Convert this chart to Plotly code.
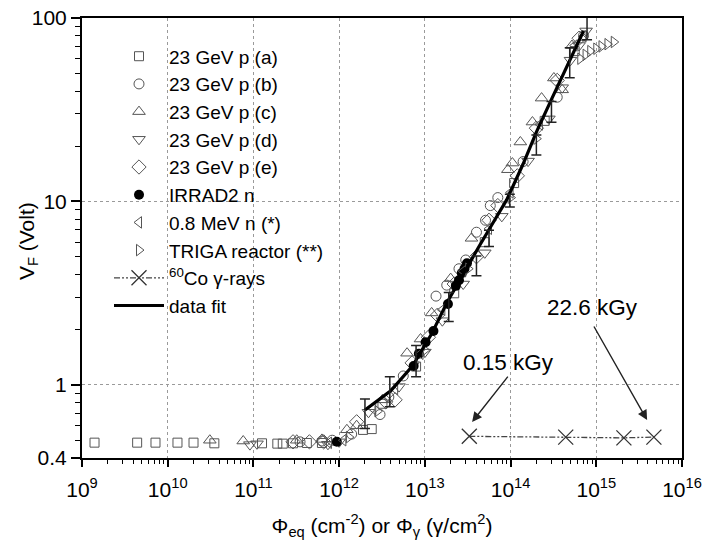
import plotly.graph_objects as go

# ---------------- data ----------------
a_x = [1.4e9, 4.4e9, 7.2e9, 1.3e10, 2.0e10, 3.5e10, 1.26e11, 1.9e11, 2.2e11, 2.9e11, 4.2e11, 6.3e11,
       1.9e12, 2.4e12, 3.2e12, 7.9e12, 2.2e13, 5.0e13, 1.1e14, 2.5e14, 5.6e14]
a_y = [0.485, 0.485, 0.485, 0.485, 0.485, 0.481, 0.481, 0.479, 0.479, 0.481, 0.483, 0.483,
       0.569, 0.575, 0.79, 1.26, 3.16, 6.0, 12.6, 27.5, 66]

b_x = [3.5e11, 6.3e11, 8.3e11, 1.4e12, 3.0e12, 3.8e12, 5.6e12, 1.35e13, 1.8e13, 2.5e13, 3.0e13,
       4.0e13, 5.1e13, 5.8e13, 7.1e13, 1.4e14, 3.5e14, 7.1e14]
b_y = [0.49, 0.495, 0.50, 0.54, 0.69, 0.86, 1.12, 3.05, 3.5, 4.3, 4.8, 6.8, 7.9, 9.5, 10.5, 16.5, 37, 80]

c_x = [3.1e10, 7.6e10, 3.2e11, 6.3e11, 1.23e12, 1.6e12, 3.2e12, 6.2e12, 8.9e12, 1.2e13, 2.0e13,
       3.5e13, 9.3e13, 1.05e14, 1.3e14, 1.8e14, 2.3e14, 3.2e14, 4.0e14, 5.2e14]
c_y = [0.50, 0.495, 0.50, 0.505, 0.57, 0.60, 0.83, 1.49, 1.78, 2.47, 3.8, 6.3, 14.9, 16.2, 21.1,
       27.1, 36.6, 47.1, 40.6, 70.8]

d_x = [9.1e10, 1.1e11, 7.4e11, 1.0e12, 2.2e12, 5.0e12, 1.0e13, 1.6e13, 2.8e13, 5.0e13, 7.9e13,
       1.6e14, 2.8e14, 4.0e14, 5.0e14, 6.3e14, 7.6e14]
d_y = [0.473, 0.478, 0.475, 0.49, 0.71, 0.98, 1.51, 2.24, 3.55, 5.25, 8.3, 16.6, 28.2, 41.7, 58.9,
       70.8, 85]

e_x = [2.9e11, 4.5e11, 6.6e11, 1.6e12, 3.5e12, 4.5e12, 7.1e12, 1.1e13, 1.4e13, 2.2e13, 4.0e13,
       5.6e13, 7.1e13, 1.2e14, 2.0e14, 3.5e14, 6.3e14]
e_y = [0.49, 0.49, 0.49, 0.63, 0.81, 0.83, 1.32, 1.82, 2.4, 3.55, 5.0, 7.9, 9.5, 13.8, 25.1, 45.7, 77.6]

irrad_x = [9.4e11, 7.4e12, 8.5e12, 1.02e13, 1.26e13, 1.86e13, 2.3e13, 2.5e13, 2.7e13, 2.9e13, 3.1e13]
irrad_y = [0.49, 1.27, 1.48, 1.71, 1.97, 2.76, 3.47, 3.72, 4.07, 4.3, 4.6]

mev_x = [7.6e11, 1.12e12, 2.5e12, 4.5e12, 8.9e12, 1.6e13, 2.8e13, 5.6e13, 1.0e14, 2.2e14, 5.6e14, 7.1e14]
mev_y = [0.484, 0.50, 0.74, 0.95, 1.48, 2.57, 4.17, 7.1, 11.2, 26.3, 70.8, 79.4]

triga_x = [1.3e12, 2.8e12, 1.0e13, 3.2e13, 1.0e14, 2.0e14, 6.5e14, 7.5e14, 8.5e14, 1.0e15, 1.15e15,
           1.35e15, 1.6e15]
triga_y = [0.52, 0.72, 1.55, 4.3, 10.5, 22.0, 60, 63, 66, 68, 70, 72, 74]

co_x = [3.3e13, 4.4e14, 2.1e15, 4.7e15]
co_y = [0.525, 0.52, 0.515, 0.52]

fit_x = [2.0e12, 4.0e12, 7.2e12, 1.2e13, 1.8e13, 2.6e13, 4.3e13, 6.5e13, 9.0e13, 1.4e14, 2.0e14,
         3.0e14, 4.6e14, 7.1e14]
fit_y = [0.73, 0.93, 1.27, 1.9, 2.8, 3.8, 5.7, 7.9, 10.2, 16, 23.9, 36, 55, 85]

eb_x = [2.0e12, 3.9e12, 7.9e12, 1.9e13, 4.0e13, 5.6e13, 9.8e13, 2.0e14, 3.0e14, 4.9e14, 7.8e14]
eb_y = [0.70, 0.92, 1.35, 2.66, 4.46, 6.3, 10.1, 20.3, 30.8, 57, 82]
eb_plus = [0.14, 0.19, 0.29, 0.53, 0.59, 0.67, 0.85, 2.7, 4.3, 11.9, 25]
eb_minus = [0.12, 0.16, 0.24, 0.44, 0.52, 0.61, 0.78, 2.4, 3.8, 9.8, 6]

x_tickvals = [1e9, 1e10, 1e11, 1e12, 1e13, 1e14, 1e15, 1e16]
x_ticktext = ["10<sup>9</sup>", "10<sup>10</sup>", "10<sup>11</sup>", "10<sup>12</sup>",
              "10<sup>13</sup>", "10<sup>14</sup>", "10<sup>15</sup>", "10<sup>16</sup>"]
y_tickvals = [0.4, 1, 10, 100]
y_ticktext = ["0.4", "1", "10", "100"]

# ---------------- figure ----------------
FONT = "Liberation Sans, Arial, sans-serif"
GRAY = "#555555"

fig = go.Figure()


def open_series(x, y, name, symbol, size):
    fig.add_trace(go.Scatter(
        x=x, y=y, mode="markers", name=name,
        marker=dict(symbol=symbol, size=size, color=GRAY, line=dict(color=GRAY, width=1)),
    ))


open_series(a_x, a_y, "23 GeV p (a)", "square-open", 9)
open_series(b_x, b_y, "23 GeV p (b)", "circle-open", 10)
open_series(c_x, c_y, "23 GeV p (c)", "triangle-up-open", 11)
open_series(d_x, d_y, "23 GeV p (d)", "triangle-down-open", 11)
open_series(e_x, e_y, "23 GeV p (e)", "diamond-open", 11)
fig.add_trace(go.Scatter(x=irrad_x, y=irrad_y, mode="markers", name="IRRAD2 n",
                         marker=dict(symbol="circle", size=10, color="black")))
open_series(mev_x, mev_y, "0.8 MeV n (*)", "triangle-left-open", 10)
open_series(triga_x, triga_y, "TRIGA reactor (**)", "triangle-right-open", 10)
fig.add_trace(go.Scatter(x=co_x, y=co_y, mode="lines+markers", name="<sup>60</sup>Co γ-rays",
                         line=dict(color="#444444", width=1.3, dash="6px,2px,2px,2px,2px,2px"),
                         marker=dict(symbol="x-thin-open", size=15, color="#333333",
                                     line=dict(color="#333333", width=1.3))))
fig.add_trace(go.Scatter(x=fit_x, y=fit_y, mode="lines", name="data fit",
                         line=dict(color="black", width=3.2)))
fig.add_trace(go.Scatter(x=eb_x, y=eb_y, mode="markers", showlegend=False, hoverinfo="skip",
                         marker=dict(size=1, color="rgba(0,0,0,0)"),
                         error_y=dict(type="data", symmetric=False, array=eb_plus, arrayminus=eb_minus,
                                      color="#222222", thickness=1.5, width=5)))

# annotations: arrows and labels (coordinates in log10 units on log axes)
fig.add_annotation(x=15.593, y=-0.191, ax=14.963, ay=0.327, xref="x", yref="y", axref="x", ayref="y",
                   text="", showarrow=True, arrowhead=2, arrowsize=1.4, arrowwidth=1.4, arrowcolor="#222222")
fig.add_annotation(x=13.551, y=-0.202, ax=13.982, ay=0.054, xref="x", yref="y", axref="x", ayref="y",
                   text="", showarrow=True, arrowhead=2, arrowsize=1.4, arrowwidth=1.4, arrowcolor="#222222")
fig.add_annotation(x=14.951, y=0.420, xref="x", yref="y", text="22.6 kGy", showarrow=False,
                   font=dict(size=22.5, color="black", family=FONT))
fig.add_annotation(x=13.971, y=0.125, xref="x", yref="y", text="0.15 kGy", showarrow=False,
                   font=dict(size=22.5, color="black", family=FONT))
# y-axis title placed as an annotation (sits closer than Plotly's automatic title)
fig.add_annotation(x=-0.09, y=0.493, xref="paper", yref="paper", text="V<sub>F</sub> (Volt)",
                   textangle=-90, showarrow=False, xanchor="center", yanchor="middle",
                   font=dict(size=21, color="black", family=FONT))

minor_x = [m * 10 ** e for e in range(9, 16) for m in range(2, 10)]
minor_y = [0.5, 0.6, 0.7, 0.8, 0.9] + [m * 10 ** e for e in range(0, 2) for m in range(2, 10)]

fig.update_layout(
    width=704, height=548,
    margin=dict(l=82, r=22, t=18, b=90, autoexpand=False),
    paper_bgcolor="white", plot_bgcolor="white",
    font=dict(family=FONT, size=21, color="black"),
    showlegend=True,
    legend=dict(x=0.045, y=0.956, xanchor="left", yanchor="top", bgcolor="rgba(0,0,0,0)",
                itemwidth=50,
                font=dict(size=19, family=FONT, color="black"), tracegroupgap=0),
    xaxis=dict(type="log", range=[9, 16], tickmode="array", tickvals=x_tickvals, ticktext=x_ticktext,
               ticks="outside", ticklen=7, tickwidth=1.5, tickcolor="black", automargin=False,
               ticklabelstandoff=5,
               showline=True, linecolor="black", linewidth=2, mirror=True,
               showgrid=True, gridcolor="#9a9a9a", griddash="dot", gridwidth=1,
               zeroline=False, tickfont=dict(size=21),
               minor=dict(tickmode="array", tickvals=minor_x, ticks="outside", ticklen=4,
                          tickwidth=1.3, tickcolor="black", showgrid=False),
               title=dict(text="Φ<sub>eq</sub> (cm<sup>-2</sup>) or Φ<sub>γ</sub> (γ/cm<sup>2</sup>)",
                          font=dict(size=21), standoff=18)),
    yaxis=dict(type="log", range=[-0.39794, 2], tickmode="array", tickvals=y_tickvals, ticktext=y_ticktext,
               ticks="outside", ticklen=9, tickwidth=1.5, tickcolor="black", automargin=False,
               showline=True, linecolor="black", linewidth=2, mirror=True,
               showgrid=True, gridcolor="#9a9a9a", griddash="dot", gridwidth=1,
               zeroline=False, tickfont=dict(size=21),
               minor=dict(tickmode="array", tickvals=minor_y, ticks="outside", ticklen=5,
                          tickwidth=1.3, tickcolor="black", showgrid=False)),
)

fig.write_html("out.html")
